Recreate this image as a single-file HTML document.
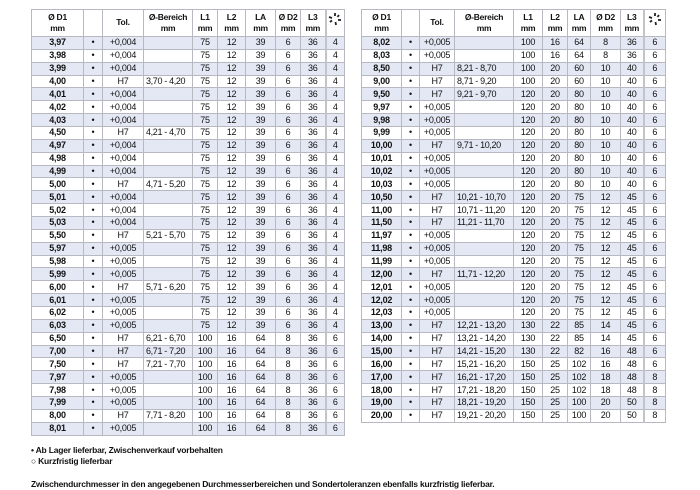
<!DOCTYPE html>
<html><head><meta charset="utf-8"><style>
body{margin:0;width:700px;height:490px;background:#fff;position:relative;font-family:"Liberation Sans",sans-serif;color:#111;overflow:hidden}
table{position:absolute;top:9px;border-collapse:collapse;table-layout:fixed;font-size:9px;letter-spacing:-0.25px}
td,th{border:1px solid #b8b8c0;padding:0;text-align:center;height:11.87px;line-height:11px;white-space:nowrap;overflow:hidden}
th{height:24px;font-weight:bold;font-size:8.5px;line-height:11px;vertical-align:top;padding-top:2px}
tbody tr:nth-child(odd) td{background:#e4e8f4}
td:first-child{font-weight:bold}
td:nth-child(4){text-align:left;padding-left:2px;letter-spacing:-0.35px}
td:last-child,th:last-child{border-left:2px solid #c4c4c8}
#L{left:31px;width:313px}
#R{left:361px;width:304px}
.f{position:absolute;left:31px;font-size:8.5px;font-weight:bold;letter-spacing:-0.2px}
</style></head><body>
<table id="L">
<colgroup><col style="width:52px"><col style="width:19px"><col style="width:41px"><col style="width:49px"><col style="width:25px"><col style="width:28px"><col style="width:30px"><col style="width:25px"><col style="width:25px"><col style="width:19px"></colgroup>
<thead><tr><th>Ø D1<br>mm</th><th></th><th style="padding-top:7px;height:19px">Tol.</th><th>Ø-Bereich<br>mm</th><th>L1<br>mm</th><th>L2<br>mm</th><th>LA<br>mm</th><th>Ø D2<br>mm</th><th>L3<br>mm</th><th><svg width="14" height="14" viewBox="0 0 14 14"><g stroke="#222" stroke-width="1.8"><line x1="7" y1="1" x2="7" y2="4"/><line x1="11" y1="3" x2="9.5" y2="5"/><line x1="13" y1="8" x2="10" y2="8"/><line x1="2" y1="10" x2="4" y2="8.5"/><line x1="8" y1="13" x2="7.5" y2="10"/><line x1="1" y1="5" x2="4" y2="6"/></g></svg></th></tr></thead>
<tbody>
<tr><td>3,97</td><td>•</td><td>+0,004</td><td></td><td>75</td><td>12</td><td>39</td><td>6</td><td>36</td><td>4</td></tr>
<tr><td>3,98</td><td>•</td><td>+0,004</td><td></td><td>75</td><td>12</td><td>39</td><td>6</td><td>36</td><td>4</td></tr>
<tr><td>3,99</td><td>•</td><td>+0,004</td><td></td><td>75</td><td>12</td><td>39</td><td>6</td><td>36</td><td>4</td></tr>
<tr><td>4,00</td><td>•</td><td>H7</td><td>3,70 - 4,20</td><td>75</td><td>12</td><td>39</td><td>6</td><td>36</td><td>4</td></tr>
<tr><td>4,01</td><td>•</td><td>+0,004</td><td></td><td>75</td><td>12</td><td>39</td><td>6</td><td>36</td><td>4</td></tr>
<tr><td>4,02</td><td>•</td><td>+0,004</td><td></td><td>75</td><td>12</td><td>39</td><td>6</td><td>36</td><td>4</td></tr>
<tr><td>4,03</td><td>•</td><td>+0,004</td><td></td><td>75</td><td>12</td><td>39</td><td>6</td><td>36</td><td>4</td></tr>
<tr><td>4,50</td><td>•</td><td>H7</td><td>4,21 - 4,70</td><td>75</td><td>12</td><td>39</td><td>6</td><td>36</td><td>4</td></tr>
<tr><td>4,97</td><td>•</td><td>+0,004</td><td></td><td>75</td><td>12</td><td>39</td><td>6</td><td>36</td><td>4</td></tr>
<tr><td>4,98</td><td>•</td><td>+0,004</td><td></td><td>75</td><td>12</td><td>39</td><td>6</td><td>36</td><td>4</td></tr>
<tr><td>4,99</td><td>•</td><td>+0,004</td><td></td><td>75</td><td>12</td><td>39</td><td>6</td><td>36</td><td>4</td></tr>
<tr><td>5,00</td><td>•</td><td>H7</td><td>4,71 - 5,20</td><td>75</td><td>12</td><td>39</td><td>6</td><td>36</td><td>4</td></tr>
<tr><td>5,01</td><td>•</td><td>+0,004</td><td></td><td>75</td><td>12</td><td>39</td><td>6</td><td>36</td><td>4</td></tr>
<tr><td>5,02</td><td>•</td><td>+0,004</td><td></td><td>75</td><td>12</td><td>39</td><td>6</td><td>36</td><td>4</td></tr>
<tr><td>5,03</td><td>•</td><td>+0,004</td><td></td><td>75</td><td>12</td><td>39</td><td>6</td><td>36</td><td>4</td></tr>
<tr><td>5,50</td><td>•</td><td>H7</td><td>5,21 - 5,70</td><td>75</td><td>12</td><td>39</td><td>6</td><td>36</td><td>4</td></tr>
<tr><td>5,97</td><td>•</td><td>+0,005</td><td></td><td>75</td><td>12</td><td>39</td><td>6</td><td>36</td><td>4</td></tr>
<tr><td>5,98</td><td>•</td><td>+0,005</td><td></td><td>75</td><td>12</td><td>39</td><td>6</td><td>36</td><td>4</td></tr>
<tr><td>5,99</td><td>•</td><td>+0,005</td><td></td><td>75</td><td>12</td><td>39</td><td>6</td><td>36</td><td>4</td></tr>
<tr><td>6,00</td><td>•</td><td>H7</td><td>5,71 - 6,20</td><td>75</td><td>12</td><td>39</td><td>6</td><td>36</td><td>4</td></tr>
<tr><td>6,01</td><td>•</td><td>+0,005</td><td></td><td>75</td><td>12</td><td>39</td><td>6</td><td>36</td><td>4</td></tr>
<tr><td>6,02</td><td>•</td><td>+0,005</td><td></td><td>75</td><td>12</td><td>39</td><td>6</td><td>36</td><td>4</td></tr>
<tr><td>6,03</td><td>•</td><td>+0,005</td><td></td><td>75</td><td>12</td><td>39</td><td>6</td><td>36</td><td>4</td></tr>
<tr><td>6,50</td><td>•</td><td>H7</td><td>6,21 - 6,70</td><td>100</td><td>16</td><td>64</td><td>8</td><td>36</td><td>6</td></tr>
<tr><td>7,00</td><td>•</td><td>H7</td><td>6,71 - 7,20</td><td>100</td><td>16</td><td>64</td><td>8</td><td>36</td><td>6</td></tr>
<tr><td>7,50</td><td>•</td><td>H7</td><td>7,21 - 7,70</td><td>100</td><td>16</td><td>64</td><td>8</td><td>36</td><td>6</td></tr>
<tr><td>7,97</td><td>•</td><td>+0,005</td><td></td><td>100</td><td>16</td><td>64</td><td>8</td><td>36</td><td>6</td></tr>
<tr><td>7,98</td><td>•</td><td>+0,005</td><td></td><td>100</td><td>16</td><td>64</td><td>8</td><td>36</td><td>6</td></tr>
<tr><td>7,99</td><td>•</td><td>+0,005</td><td></td><td>100</td><td>16</td><td>64</td><td>8</td><td>36</td><td>6</td></tr>
<tr><td>8,00</td><td>•</td><td>H7</td><td>7,71 - 8,20</td><td>100</td><td>16</td><td>64</td><td>8</td><td>36</td><td>6</td></tr>
<tr><td>8,01</td><td>•</td><td>+0,005</td><td></td><td>100</td><td>16</td><td>64</td><td>8</td><td>36</td><td>6</td></tr>
</tbody></table>

<table id="R">
<colgroup><col style="width:40px"><col style="width:18px"><col style="width:35px"><col style="width:59px"><col style="width:29px"><col style="width:25px"><col style="width:23px"><col style="width:30px"><col style="width:23px"><col style="width:22px"></colgroup>
<thead><tr><th>Ø D1<br>mm</th><th></th><th style="padding-top:7px;height:19px">Tol.</th><th>Ø-Bereich<br>mm</th><th>L1<br>mm</th><th>L2<br>mm</th><th>LA<br>mm</th><th>Ø D2<br>mm</th><th>L3<br>mm</th><th><svg width="14" height="14" viewBox="0 0 14 14"><g stroke="#222" stroke-width="1.8"><line x1="7" y1="1" x2="7" y2="4"/><line x1="11" y1="3" x2="9.5" y2="5"/><line x1="13" y1="8" x2="10" y2="8"/><line x1="2" y1="10" x2="4" y2="8.5"/><line x1="8" y1="13" x2="7.5" y2="10"/><line x1="1" y1="5" x2="4" y2="6"/></g></svg></th></tr></thead>
<tbody>
<tr><td>8,02</td><td>•</td><td>+0,005</td><td></td><td>100</td><td>16</td><td>64</td><td>8</td><td>36</td><td>6</td></tr>
<tr><td>8,03</td><td>•</td><td>+0,005</td><td></td><td>100</td><td>16</td><td>64</td><td>8</td><td>36</td><td>6</td></tr>
<tr><td>8,50</td><td>•</td><td>H7</td><td>8,21 - 8,70</td><td>100</td><td>20</td><td>60</td><td>10</td><td>40</td><td>6</td></tr>
<tr><td>9,00</td><td>•</td><td>H7</td><td>8,71 - 9,20</td><td>100</td><td>20</td><td>60</td><td>10</td><td>40</td><td>6</td></tr>
<tr><td>9,50</td><td>•</td><td>H7</td><td>9,21 - 9,70</td><td>120</td><td>20</td><td>80</td><td>10</td><td>40</td><td>6</td></tr>
<tr><td>9,97</td><td>•</td><td>+0,005</td><td></td><td>120</td><td>20</td><td>80</td><td>10</td><td>40</td><td>6</td></tr>
<tr><td>9,98</td><td>•</td><td>+0,005</td><td></td><td>120</td><td>20</td><td>80</td><td>10</td><td>40</td><td>6</td></tr>
<tr><td>9,99</td><td>•</td><td>+0,005</td><td></td><td>120</td><td>20</td><td>80</td><td>10</td><td>40</td><td>6</td></tr>
<tr><td>10,00</td><td>•</td><td>H7</td><td>9,71 - 10,20</td><td>120</td><td>20</td><td>80</td><td>10</td><td>40</td><td>6</td></tr>
<tr><td>10,01</td><td>•</td><td>+0,005</td><td></td><td>120</td><td>20</td><td>80</td><td>10</td><td>40</td><td>6</td></tr>
<tr><td>10,02</td><td>•</td><td>+0,005</td><td></td><td>120</td><td>20</td><td>80</td><td>10</td><td>40</td><td>6</td></tr>
<tr><td>10,03</td><td>•</td><td>+0,005</td><td></td><td>120</td><td>20</td><td>80</td><td>10</td><td>40</td><td>6</td></tr>
<tr><td>10,50</td><td>•</td><td>H7</td><td>10,21 - 10,70</td><td>120</td><td>20</td><td>75</td><td>12</td><td>45</td><td>6</td></tr>
<tr><td>11,00</td><td>•</td><td>H7</td><td>10,71 - 11,20</td><td>120</td><td>20</td><td>75</td><td>12</td><td>45</td><td>6</td></tr>
<tr><td>11,50</td><td>•</td><td>H7</td><td>11,21 - 11,70</td><td>120</td><td>20</td><td>75</td><td>12</td><td>45</td><td>6</td></tr>
<tr><td>11,97</td><td>•</td><td>+0,005</td><td></td><td>120</td><td>20</td><td>75</td><td>12</td><td>45</td><td>6</td></tr>
<tr><td>11,98</td><td>•</td><td>+0,005</td><td></td><td>120</td><td>20</td><td>75</td><td>12</td><td>45</td><td>6</td></tr>
<tr><td>11,99</td><td>•</td><td>+0,005</td><td></td><td>120</td><td>20</td><td>75</td><td>12</td><td>45</td><td>6</td></tr>
<tr><td>12,00</td><td>•</td><td>H7</td><td>11,71 - 12,20</td><td>120</td><td>20</td><td>75</td><td>12</td><td>45</td><td>6</td></tr>
<tr><td>12,01</td><td>•</td><td>+0,005</td><td></td><td>120</td><td>20</td><td>75</td><td>12</td><td>45</td><td>6</td></tr>
<tr><td>12,02</td><td>•</td><td>+0,005</td><td></td><td>120</td><td>20</td><td>75</td><td>12</td><td>45</td><td>6</td></tr>
<tr><td>12,03</td><td>•</td><td>+0,005</td><td></td><td>120</td><td>20</td><td>75</td><td>12</td><td>45</td><td>6</td></tr>
<tr><td>13,00</td><td>•</td><td>H7</td><td>12,21 - 13,20</td><td>130</td><td>22</td><td>85</td><td>14</td><td>45</td><td>6</td></tr>
<tr><td>14,00</td><td>•</td><td>H7</td><td>13,21 - 14,20</td><td>130</td><td>22</td><td>85</td><td>14</td><td>45</td><td>6</td></tr>
<tr><td>15,00</td><td>•</td><td>H7</td><td>14,21 - 15,20</td><td>130</td><td>22</td><td>82</td><td>16</td><td>48</td><td>6</td></tr>
<tr><td>16,00</td><td>•</td><td>H7</td><td>15,21 - 16,20</td><td>150</td><td>25</td><td>102</td><td>16</td><td>48</td><td>6</td></tr>
<tr><td>17,00</td><td>•</td><td>H7</td><td>16,21 - 17,20</td><td>150</td><td>25</td><td>102</td><td>18</td><td>48</td><td>8</td></tr>
<tr><td>18,00</td><td>•</td><td>H7</td><td>17,21 - 18,20</td><td>150</td><td>25</td><td>102</td><td>18</td><td>48</td><td>8</td></tr>
<tr><td>19,00</td><td>•</td><td>H7</td><td>18,21 - 19,20</td><td>150</td><td>25</td><td>100</td><td>20</td><td>50</td><td>8</td></tr>
<tr><td>20,00</td><td>•</td><td>H7</td><td>19,21 - 20,20</td><td>150</td><td>25</td><td>100</td><td>20</td><td>50</td><td>8</td></tr>
</tbody></table>

<div class="f" style="top:445px">• Ab Lager lieferbar, Zwischenverkauf vorbehalten</div>
<div class="f" style="top:456px">○ Kurzfristig lieferbar</div>
<div class="f" style="top:479px">Zwischendurchmesser in den angegebenen Durchmesserbereichen und Sondertoleranzen ebenfalls kurzfristig lieferbar.</div>
</body></html>
